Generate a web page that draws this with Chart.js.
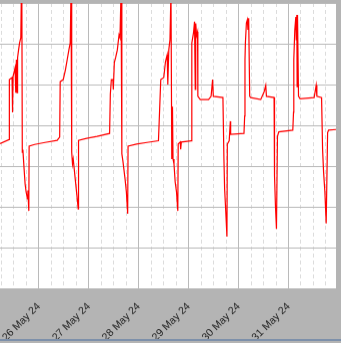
<!DOCTYPE html>
<html>
<head>
<meta charset="utf-8">
<script src="https://cdn.jsdelivr.net/npm/chart.js@4.4.1/dist/chart.umd.min.js"></script>
<style>
  html, body { margin: 0; padding: 0; background: #b4b4b4; }
  canvas { display: block; border-bottom: 2px solid #7d90aa; }
</style>
</head>
<body>
<canvas id="grafico" width="341" height="341"></canvas>
<script>
// times (UTC) and readings
const times = [
  "2024-05-25 05:21", "2024-05-25 09:41", "2024-05-25 09:50", "2024-05-25 11:08", "2024-05-25 11:22",
  "2024-05-25 11:37", "2024-05-25 12:35", "2024-05-25 12:55", "2024-05-25 13:13", "2024-05-25 13:32",
  "2024-05-25 13:47", "2024-05-25 14:16", "2024-05-25 14:45", "2024-05-25 15:20", "2024-05-25 15:37",
  "2024-05-25 15:50", "2024-05-25 16:03", "2024-05-25 16:20", "2024-05-25 16:55", "2024-05-25 17:24",
  "2024-05-25 17:53", "2024-05-25 18:31", "2024-05-25 18:45", "2024-05-25 19:11", "2024-05-25 19:20",
  "2024-05-25 22:00", "2024-05-26 03:00", "2024-05-26 08:49",
  "2024-05-26 10:01", "2024-05-26 10:16", "2024-05-26 11:43", "2024-05-26 12:11", "2024-05-26 12:49",
  "2024-05-26 13:38", "2024-05-26 14:27", "2024-05-26 15:05", "2024-05-26 15:28", "2024-05-26 15:48",
  "2024-05-26 16:11", "2024-05-26 16:32", "2024-05-26 17:30", "2024-05-26 18:13", "2024-05-26 18:56",
  "2024-05-26 19:05", "2024-05-26 23:00", "2024-05-27 04:00", "2024-05-27 10:01",
  "2024-05-27 10:22", "2024-05-27 10:51", "2024-05-27 11:34", "2024-05-27 11:48", "2024-05-27 12:17",
  "2024-05-27 12:55", "2024-05-27 13:44", "2024-05-27 14:33", "2024-05-27 15:00", "2024-05-27 15:31",
  "2024-05-27 15:54", "2024-05-27 16:25", "2024-05-27 17:27", "2024-05-27 18:04", "2024-05-27 18:42",
  "2024-05-27 18:53", "2024-05-27 23:00", "2024-05-28 04:00", "2024-05-28 09:30",
  "2024-05-28 09:50", "2024-05-28 10:36", "2024-05-28 12:03", "2024-05-28 12:52", "2024-05-28 13:41",
  "2024-05-28 13:59", "2024-05-28 14:28", "2024-05-28 15:02", "2024-05-28 15:31", "2024-05-28 15:54",
  "2024-05-28 16:14", "2024-05-28 16:30", "2024-05-28 16:58", "2024-05-28 17:32", "2024-05-28 18:10",
  "2024-05-28 18:48", "2024-05-28 18:59", "2024-05-28 20:00", "2024-05-28 20:10", "2024-05-28 20:30",
  "2024-05-29 01:15",
  "2024-05-29 01:32", "2024-05-29 02:21", "2024-05-29 02:50", "2024-05-29 03:11", "2024-05-29 03:25",
  "2024-05-29 03:50", "2024-05-29 04:17", "2024-05-29 04:26", "2024-05-29 05:35", "2024-05-29 09:35",
  "2024-05-29 10:48", "2024-05-29 11:31", "2024-05-29 11:52", "2024-05-29 16:29", "2024-05-29 16:58",
  "2024-05-29 17:18", "2024-05-29 17:47", "2024-05-29 18:25", "2024-05-29 18:36", "2024-05-29 19:30",
  "2024-05-29 20:03", "2024-05-29 20:12", "2024-05-30 02:36",
  "2024-05-30 02:56", "2024-05-30 03:05", "2024-05-30 03:17", "2024-05-30 03:46", "2024-05-30 04:14",
  "2024-05-30 04:30", "2024-05-30 04:52", "2024-05-30 05:21", "2024-05-30 05:50", "2024-05-30 10:39",
  "2024-05-30 11:46", "2024-05-30 12:20", "2024-05-30 13:04", "2024-05-30 13:24", "2024-05-30 17:04",
  "2024-05-30 17:10", "2024-05-30 17:24", "2024-05-30 17:44", "2024-05-30 18:13", "2024-05-30 18:42",
  "2024-05-30 19:20", "2024-05-31 02:04",
  "2024-05-31 02:25", "2024-05-31 02:33", "2024-05-31 03:02", "2024-05-31 03:31", "2024-05-31 03:45",
  "2024-05-31 04:00", "2024-05-31 04:09", "2024-05-31 04:20", "2024-05-31 04:49", "2024-05-31 05:35",
  "2024-05-31 12:20", "2024-05-31 13:18", "2024-05-31 13:38", "2024-05-31 15:54", "2024-05-31 16:23",
  "2024-05-31 16:52", "2024-05-31 17:29", "2024-05-31 18:07", "2024-05-31 18:48", "2024-05-31 19:17",
  "2024-05-31 23:37"
];

const valores = [
  35.5, 36.5, 51.2, 51.7, 43.2,
  52.0, 54.1, 48.0, 56.1, 48.0,
  56.6, 58.5, 60.2, 61.5, 73.0,
  72.0, 33.4, 34.0, 29.3, 25.6,
  23.7, 22.0, 24.0, 19.0, 34.9,
  35.3, 35.8, 36.3,
  37.1, 50.7, 51.2, 52.2, 53.7,
  56.1, 58.5, 60.2, 73.0, 33.4,
  30.5, 31.7, 26.8, 23.2, 19.5,
  36.3, 36.8, 37.3, 38.0,
  47.6, 51.2, 51.2, 48.8, 55.4,
  56.6, 58.5, 62.2, 61.5, 73.0,
  33.0, 31.2, 26.8, 23.7, 18.3,
  34.9, 35.4, 35.8, 36.2,
  40.7, 51.2, 51.7, 55.6, 57.3,
  50.0, 58.5, 61.0, 73.0, 31.7,
  44.6, 31.7, 30.5, 26.1, 23.7,
  19.0, 35.4, 35.9, 34.1, 35.9,
  36.2,
  60.2, 62.7, 65.4, 48.8, 65.0,
  62.0, 62.9, 47.1, 46.3, 46.3,
  47.1, 51.2, 47.1, 46.8, 31.7,
  24.4, 19.5, 12.7, 35.4, 36.2,
  41.0, 37.8, 38.0,
  42.3, 56.1, 60.2, 65.1, 65.9,
  63.4, 66.3, 47.1, 46.8, 46.3,
  47.6, 48.3, 49.8, 47.1, 46.8,
  31.0, 27.6, 20.2, 14.6, 37.3,
  38.4, 38.8,
  43.2, 56.1, 63.4, 66.6, 61.0,
  67.1, 49.5, 67.1, 47.1, 46.5,
  46.8, 49.8, 47.1, 46.8, 34.1,
  28.5, 23.7, 15.9, 38.2, 38.8,
  39.0
];

// visible range of the x axis and of the y axis
const inicio = "2024-05-25 05:20";
const fin = "2024-05-31 22:50";
const yMin = 0;
const yMax = 70;
const meses = ["Jan", "Feb", "Mar", "Apr", "May", "Jun", "Jul", "Aug", "Sep", "Oct", "Nov", "Dec"];

const HORA = 3600000;
const DIA = 24 * HORA;

function aMs(s) {
    return Date.parse(s.replace(" ", "T") + ":00Z");
}

const puntos = times.map((t, i) => ({ x: aMs(t), y: valores[i] }));

// fondo gris y area del grafico en blanco
const fondo = {
    id: 'fondo',
    beforeDraw(chart) {
        const { ctx, chartArea: a } = chart;
        ctx.save();
        ctx.fillStyle = '#b4b4b4';
        ctx.fillRect(0, 0, chart.width, chart.height);
        ctx.fillStyle = '#ffffff';
        ctx.fillRect(a.left, a.top, a.right - a.left, a.bottom - a.top);
        ctx.restore();
    }
};

const esDia = (ctx) => ctx.tick && ctx.tick.value % DIA === 0;

const ctx = document.getElementById('grafico');
window.myChart = new Chart(ctx, {
    type: 'line',
    data: {
        datasets: [{
            data: puntos,
            borderColor: '#ff0000',
            borderWidth: 1.2,
            pointRadius: 0,
            tension: 0,
            clip: 0
        }]
    },
    options: {
        responsive: false,
        animation: false,
        devicePixelRatio: 1,
        layout: { padding: { top: 3, right: 5, left: 0, bottom: 0 } },
        plugins: { legend: { display: false }, tooltip: { enabled: false } },
        scales: {
            x: {
                type: 'linear',
                min: aMs(inicio),
                max: aMs(fin),
                afterBuildTicks(axis) {
                    const ticks = [];
                    let v = Math.ceil(axis.min / (6 * HORA)) * 6 * HORA;
                    for (; v <= axis.max; v += 6 * HORA) ticks.push({ value: v });
                    axis.ticks = ticks;
                },
                afterFit(axis) {
                    axis.height = 51;
                    axis.paddingLeft = 0;
                    axis.paddingRight = 0;
                },
                ticks: {
                    autoSkip: false,
                    minRotation: 45,
                    maxRotation: 45,
                    padding: 12,
                    labelOffset: 0,
                    color: '#222222',
                    font: { family: 'Liberation Sans', size: 10.5 },
                    callback(value) {
                        if (value % DIA !== 0) return '';
                        const d = new Date(value);
                        return d.getUTCDate() + ' ' + meses[d.getUTCMonth()] + ' ' + String(d.getUTCFullYear()).slice(2);
                    }
                },
                grid: {
                    color: (c) => esDia(c) ? '#bababa' : '#dcdcdc',
                    drawTicks: false
                },
                border: {
                    display: false,
                    dash: (c) => esDia(c) ? [] : [4, 3]
                }
            },
            y: {
                min: yMin,
                max: yMax,
                afterFit(axis) {
                    axis.width = 0;
                },
                ticks: { display: false, stepSize: 10 },
                grid: { color: '#bababa', drawTicks: false },
                border: { display: false }
            }
        }
    },
    plugins: [fondo]
});
</script>
</body>
</html>
